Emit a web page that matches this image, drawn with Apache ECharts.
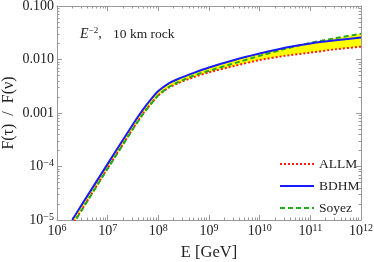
<!DOCTYPE html>
<html>
<head>
<meta charset="utf-8">
<script src="https://cdn.jsdelivr.net/npm/echarts@6/dist/echarts.min.js"></script>
<style>
html,body{margin:0;padding:0;background:#fff;}
#c{width:374px;height:262px;}
</style>
</head>
<body>
<div id="c"></div>
<script>
// Energies in GeV
const energies = [2e6, 3.16e6, 1e7, 3.16e7, 5.01e7, 7.08e7, 1e8, 1.58e8, 2.51e8, 5.01e8, 1e9, 3.16e9, 1e10, 3.16e10, 1e11, 3.16e11, 1e12];
// F(tau)/F(nu)
const allm  = [8.13e-6, 1.62e-5, 9.33e-5, 5.13e-4, 9.77e-4, 1.48e-3, 2.14e-3, 2.95e-3, 3.63e-3, 4.68e-3, 5.75e-3, 7.59e-3, 9.77e-3, 1.17e-2, 1.35e-2, 1.55e-2, 1.74e-2];
const bdhm  = [1.00e-5, 2.00e-5, 1.12e-4, 6.17e-4, 1.17e-3, 1.78e-3, 2.57e-3, 3.55e-3, 4.37e-3, 5.62e-3, 7.08e-3, 9.77e-3, 1.29e-2, 1.66e-2, 2.00e-2, 2.29e-2, 2.57e-2];
const soyez = [7.94e-6, 1.58e-5, 9.12e-5, 5.01e-4, 9.55e-4, 1.45e-3, 2.14e-3, 3.02e-3, 3.80e-3, 5.01e-3, 6.17e-3, 8.51e-3, 1.17e-2, 1.58e-2, 2.04e-2, 2.51e-2, 3.02e-2];
// Tick labels
const xTickExps = [6, 7, 8, 9, 10, 11, 12];
const yTickVals = [1e-5, 1e-4, 1e-3, 1e-2, 1e-1];
const yTickLabels = ['10{s|−5}', '10{s|−4}', '0.001', '0.010', '0.100'];

const xMajor = xTickExps.map(e => Math.pow(10, e));
const xMinor = [];
for (let i = 0; i < xMajor.length - 1; i++) for (let k = 2; k <= 9; k++) xMinor.push(xMajor[i] * k);
const yMinor = [];
for (let i = 0; i < yTickVals.length - 1; i++) for (let k = 2; k <= 9; k++) yMinor.push(yTickVals[i] * k);

const pair = arr => energies.map((e, i) => [e, arr[i]]);
const lo = energies.map((e, i) => Math.min(allm[i], bdhm[i], soyez[i]));
const hi = energies.map((e, i) => Math.max(allm[i], bdhm[i], soyez[i]));

const FONT = 'Liberation Serif';
const axisColor = '#999';
const X = { type: 'log', min: 1e6, max: 1e12, logBase: 10, gridIndex: 0, splitLine: { show: false } };
const Y = { type: 'log', min: 1e-5, max: 0.1, logBase: 10, gridIndex: 0, splitLine: { show: false } };

function axis(base, pos, major, tickVals) {
  return Object.assign({}, base, {
    position: pos,
    axisLine: { show: major, lineStyle: { color: axisColor, width: 1 } },
    axisTick: { show: true, inside: true, length: major ? 5 : 2.5, customValues: tickVals, lineStyle: { color: axisColor } },
    axisLabel: { show: false },
    minorTick: { show: false }
  });
}
const richLab = {
  b: { fontFamily: FONT, fontSize: 14, color: '#222' },
  s: { fontFamily: FONT, fontSize: 10, color: '#222', verticalAlign: 'top', padding: [0, 0, 6, 0] }
};

const xAxes = [
  Object.assign(axis(X, 'bottom', true, xMajor), {
    axisLabel: {
      show: true, customValues: xMajor, margin: 3,
      formatter: v => '{b|10}{s|' + Math.round(Math.log10(v)) + '}',
      rich: richLab
    },
    name: 'E [GeV]', nameLocation: 'middle', nameGap: 24,
    nameTextStyle: { fontFamily: FONT, fontSize: 16.5, color: '#222', verticalAlign: 'top' }
  }),
  axis(X, 'bottom', false, xMinor),
  axis(X, 'top', true, xMajor),
  axis(X, 'top', false, xMinor)
];
const yAxes = [
  Object.assign(axis(Y, 'left', true, yTickVals), {
    axisLabel: {
      show: true, customValues: yTickVals, margin: 3,
      formatter: v => {
        const i = yTickVals.findIndex(t => Math.abs(Math.log10(t) - Math.log10(v)) < 1e-6);
        const s = yTickLabels[i];
        return s.indexOf('{') >= 0 ? '{b|' + s.replace('{s|', '}{s|') : '{b|' + s + '}';
      },
      rich: richLab
    },
    name: 'F(τ)  /  F(ν)', nameLocation: 'middle', nameGap: 40, nameRotate: 90, nameMoveOverlap: false,
    nameTextStyle: { fontFamily: FONT, fontSize: 16, color: '#222' }
  }),
  axis(Y, 'left', false, yMinor),
  axis(Y, 'right', true, yTickVals),
  axis(Y, 'right', false, yMinor)
];

const chart = echarts.init(document.getElementById('c'), null, { renderer: 'canvas' });
chart.setOption({
  animation: false,
  backgroundColor: '#fff',
  grid: { left: 57, right: 13, top: 6, bottom: 42, containLabel: false, outerBoundsMode: 'none' },
  xAxis: xAxes,
  yAxis: yAxes,
  legend: {
    data: ['ALLM', 'BDHM', 'Soyez'], orient: 'vertical', left: 274, top: 152,
    itemWidth: 34, itemHeight: 14, itemGap: 8,
    itemStyle: { opacity: 0 },
    textStyle: { fontFamily: FONT, fontSize: 13.5, color: '#222' }
  },
  graphic: [{
    type: 'text', left: 80, top: 26, z: 100,
    style: {
      text: '{e|E}{s|−2}{t|,}',
      rich: {
        e: { fontFamily: FONT, fontStyle: 'italic', fontSize: 14, fill: '#222' },
        s: { fontFamily: FONT, fontSize: 9, fill: '#222', verticalAlign: 'top', padding: [0, 0, 7, 0] },
        t: { fontFamily: FONT, fontSize: 14, fill: '#222' }
      }
    }
  }, {
    type: 'text', left: 113, top: 27, z: 100,
    style: { text: '10 km rock', font: '13.5px "Liberation Serif"', fill: '#222' }
  }],
  series: [
    {
      name: 'band', type: 'custom', clip: true, silent: true, z: 1,
      data: [[1e9, 1e-3]],
      renderItem: (params, api) => {
        const top = energies.map((e, i) => api.coord([e, hi[i]]));
        const bot = energies.map((e, i) => api.coord([e, lo[i]])).reverse();
        return { type: 'polygon', shape: { points: top.concat(bot) }, style: { fill: '#ffff00', stroke: null } };
      }
    },
    { name: 'ALLM', type: 'line', data: pair(allm), symbol: 'none', smooth: 0.2, lineStyle: { color: '#ff1a1a', width: 2, type: [2, 2] }, itemStyle: { color: '#ff1a1a' }, z: 3 },
    { name: 'BDHM', type: 'line', data: pair(bdhm), symbol: 'none', smooth: 0.2, lineStyle: { color: '#1a1aff', width: 2 }, itemStyle: { color: '#1a1aff' }, z: 4 },
    { name: 'Soyez', type: 'line', data: pair(soyez), symbol: 'none', smooth: 0.2, lineStyle: { color: '#22aa22', width: 2, type: [5, 3] }, itemStyle: { color: '#22aa22' }, z: 3 }
  ]
});
</script>
</body>
</html>
